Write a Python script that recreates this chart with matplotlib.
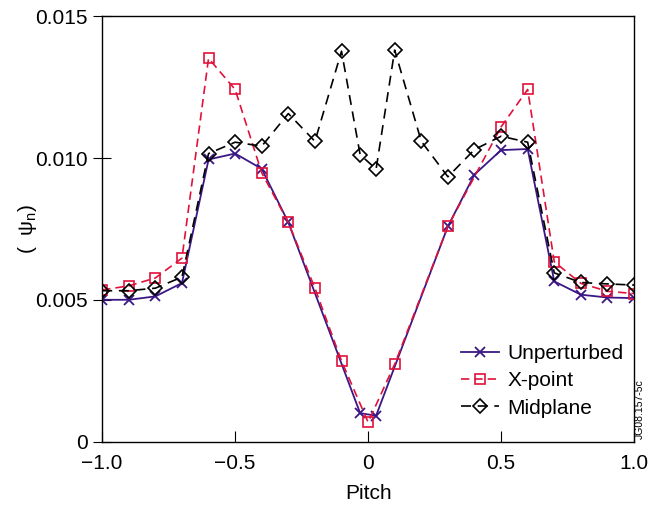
import matplotlib
matplotlib.use('Agg')
import matplotlib.pyplot as plt

plt.rcParams['font.family'] = ['Liberation Sans', 'DejaVu Sans']
plt.rcParams['mathtext.fontset'] = 'custom'
plt.rcParams['mathtext.rm'] = 'Liberation Sans'

# Unperturbed
pitch_u = [-1.0, -0.9, -0.8, -0.7, -0.6, -0.5, -0.4, -0.3, -0.03, 0.03,
           0.3, 0.4, 0.5, 0.6, 0.7, 0.8, 0.9, 1.0]
psi_u = [0.0050, 0.0050, 0.00512, 0.00559, 0.00995, 0.01016, 0.00962, 0.00773, 0.00100, 0.00091,
         0.00759, 0.00942, 0.01028, 0.01032, 0.00565, 0.00518, 0.00508, 0.00506]

# X-point
pitch_x = [-1.0, -0.9, -0.8, -0.7, -0.6, -0.5, -0.4, -0.3, -0.2, -0.1, 0.0,
           0.1, 0.3, 0.5, 0.6, 0.7, 0.8, 0.9, 1.0]
psi_x = [0.00535, 0.00549, 0.00577, 0.00647, 0.01352, 0.01242, 0.00948, 0.00773, 0.00541, 0.00284, 0.00068,
         0.00273, 0.00759, 0.0111, 0.01242, 0.00634, 0.00558, 0.00530, 0.00522]

# Midplane
pitch_m = [-1.0, -0.9, -0.8, -0.7, -0.6, -0.5, -0.4, -0.3, -0.2, -0.1, -0.03, 0.03,
           0.1, 0.2, 0.3, 0.4, 0.5, 0.6, 0.7, 0.8, 0.9, 1.0]
psi_m = [0.00532, 0.00532, 0.00541, 0.0058, 0.01016, 0.01056, 0.01042, 0.01157, 0.01059, 0.01377, 0.01012, 0.00961,
         0.01381, 0.01059, 0.00934, 0.0103, 0.01077, 0.01056, 0.00595, 0.00561, 0.00556, 0.00552]

xticks = [-1.0, -0.5, 0, 0.5, 1.0]
xticklabels = ['\u22121.0', '\u22120.5', '0', '0.5', '1.0']
yticks = [0, 0.005, 0.010, 0.015]
yticklabels = ['0', '0.005', '0.010', '0.015']

fig = plt.figure(figsize=(6.55, 5.11), dpi=100)
ax = fig.add_axes([0.156, 0.136, 0.812, 0.832])

ax.plot(pitch_u, psi_u, '-', color='#3a1785', lw=1.3, marker='x', ms=7.5, mew=1.3,
        label='Unperturbed')
ax.plot(pitch_x, psi_x, '--', color='#e0123c', lw=1.2, marker='s', ms=7.5, mew=1.2,
        mfc='none', dashes=(5, 3), label='X-point')
ax.plot(pitch_m, psi_m, '--', color='black', lw=1.2, marker='D', ms=7.5, mew=1.2,
        mfc='none', dashes=(6, 4), label='Midplane')

ax.set_xlim(-1.0, 1.0)
ax.set_ylim(0, 0.015)
ax.set_xticks(xticks)
ax.set_xticklabels(xticklabels)
ax.set_yticks(yticks)
ax.set_yticklabels(yticklabels)
ax.tick_params(axis='x', direction='in', length=8, labelsize=15, pad=9)
ax.tick_params(axis='y', direction='inout', length=13, labelsize=15, pad=4)
for s in ax.spines.values():
    s.set_linewidth(1.0)

ax.set_xlabel('Pitch', fontsize=15, labelpad=8)
ax.set_ylabel('(  \u03c8$_{\\rm n}$)', fontsize=15)
ax.yaxis.set_label_coords(-0.119, 0.5)

ax.legend(loc='lower right', bbox_to_anchor=(1.016, 0.012), frameon=False, fontsize=15,
          numpoints=1, handlelength=1.85, handletextpad=0.4, labelspacing=0.4)

fig.text(0.977, 0.2, 'JG08.157-5c', rotation=90, fontsize=7.5, ha='center', va='center')

plt.savefig('out.png', dpi=100)
